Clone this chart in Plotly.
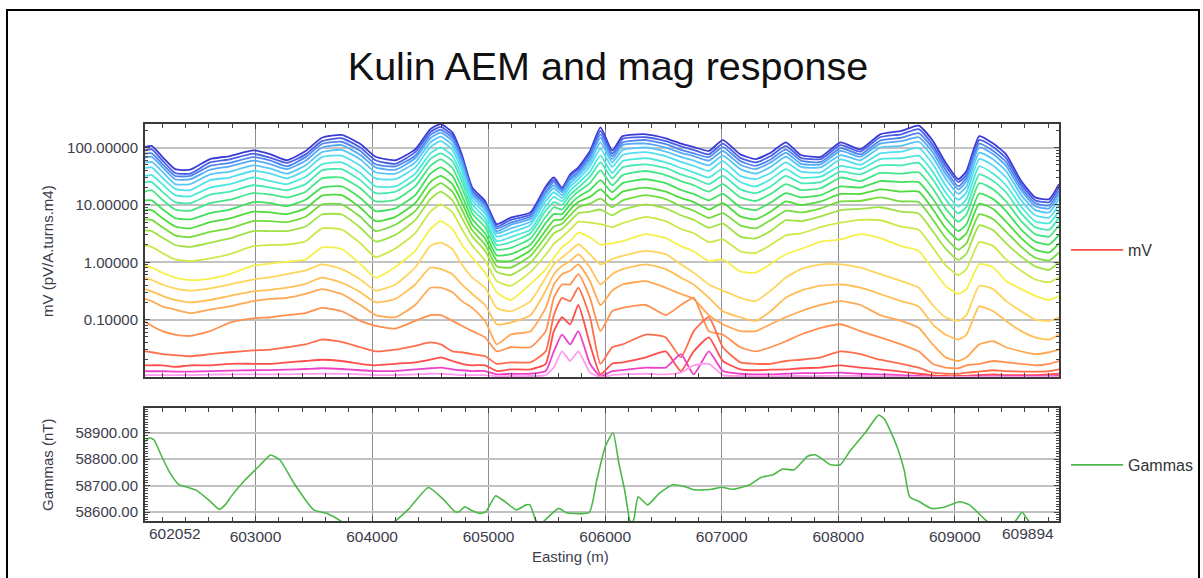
import plotly.graph_objects as go

W, H = 1203, 578

# ---------------- data ----------------
easting = [602052, 602110, 602200, 602310, 602440, 602610, 602780, 602980, 603130, 603270,
           603430, 603570, 603740, 603900, 604030, 604200, 604370, 604500, 604590, 604690,
           604770, 604860, 604970, 605070, 605190, 605360, 605490, 605560, 605630, 605700,
           605770, 605870, 605960, 606060, 606150, 606350, 606520, 606650, 606760, 606890,
           607010, 607160, 607290, 607420, 607550, 607680, 607850, 608020, 608190, 608360,
           608540, 608690, 608810, 608920, 609030, 609100, 609210, 609330, 609440, 609570,
           609690, 609810, 609894]

# mV (pV/A.turns.m4), channel 1 (earliest) ... channel 23 (latest)
ch01 = [102, 107, 69, 42, 41, 63, 71, 89, 76, 60, 87, 148, 166, 115, 69, 60, 93, 209, 257, 182, 76, 20, 11.7, 4.6, 6.0, 7.4, 21, 30, 20, 34, 45, 87, 224, 89, 158, 170, 145, 117, 102, 87, 135, 76, 63, 81, 123, 74, 69, 123, 93, 170, 195, 240, 132, 55, 28, 39, 158, 117, 76, 26, 13.5, 12.6, 23]
ch02 = [89, 93, 60, 36, 35, 55, 62, 78, 66, 54, 76, 129, 145, 100, 60, 52, 83, 186, 229, 162, 68, 18, 10.7, 4.2, 5.5, 6.8, 19.5, 27, 19.1, 32, 42, 79, 195, 79, 141, 151, 129, 105, 91, 76, 117, 66, 55, 71, 107, 66, 63, 110, 85, 151, 170, 209, 112, 48, 25, 34, 135, 102, 65, 23, 12.0, 11.2, 20]
ch03 = [78, 79, 52, 32, 32, 48, 54, 68, 59, 47, 68, 115, 126, 87, 51, 47, 72, 166, 204, 145, 62, 17, 10.0, 3.9, 4.9, 6.3, 17, 25, 17.8, 29, 38, 71, 170, 71, 123, 135, 115, 91, 79, 68, 102, 58, 48, 62, 93, 59, 56, 98, 76, 132, 148, 178, 98, 41, 21, 30, 117, 87, 56, 20, 10.7, 9.8, 17.4]
ch04 = [66, 69, 46, 28, 28, 41, 47, 59, 51, 42, 59, 100, 110, 74, 45, 41, 65, 145, 182, 129, 55, 15.5, 9.1, 3.5, 4.5, 5.8, 15.8, 22, 16.6, 27, 35, 63, 148, 63, 110, 117, 100, 81, 71, 59, 87, 50, 42, 55, 81, 52, 51, 87, 69, 117, 129, 151, 83, 35, 18.6, 26, 100, 76, 48, 17.8, 9.5, 8.7, 15.1]
ch05 = [55, 56, 38, 23, 23, 34, 38, 49, 43, 35, 49, 83, 91, 62, 37, 35, 55, 123, 155, 110, 48, 13.8, 8.1, 3.2, 3.9, 5.1, 13.8, 19.5, 14.8, 24, 32, 55, 123, 55, 91, 100, 85, 69, 59, 49, 72, 42, 35, 46, 69, 46, 45, 74, 60, 100, 107, 126, 68, 29, 15.5, 21, 81, 62, 39, 14.8, 8.1, 7.4, 12.9]
ch06 = [44, 45, 30, 19, 18, 27, 30, 39, 35, 29, 40, 68, 72, 48, 29, 28, 45, 102, 129, 91, 40, 12.0, 7.1, 2.8, 3.3, 4.5, 11.7, 16.6, 13.2, 21, 28, 47, 95, 46, 74, 83, 71, 56, 48, 39, 58, 32, 28, 36, 55, 38, 37, 62, 50, 79, 85, 98, 52, 22, 12.3, 16.6, 63, 48, 30, 12.0, 6.6, 6.0, 10.2]
ch07 = [32, 33, 23, 14.8, 14.1, 20, 23, 30, 26, 23, 31, 51, 55, 36, 21, 21, 35, 79, 100, 72, 32, 10.2, 5.9, 2.34, 2.75, 3.7, 9.5, 13.8, 11.5, 17.8, 24, 38, 72, 36, 58, 65, 55, 44, 37, 30, 43, 25, 21, 28, 42, 30, 31, 48, 42, 63, 65, 72, 38, 16.6, 9.3, 12.6, 47, 35, 22, 9.3, 5.2, 4.8, 7.8]
ch08 = [25, 25, 17, 11.2, 10.7, 15.1, 17, 22, 20, 18, 23, 40, 42, 27, 16, 17, 28, 63, 79, 58, 26, 8.5, 5.0, 2.0, 2.24, 3.2, 7.9, 11.2, 10.0, 15.1, 20, 31, 55, 29, 45, 51, 44, 34, 29, 23, 32, 18.6, 16, 21, 32, 24, 25, 38, 34, 49, 49, 54, 28, 12.6, 7.1, 9.3, 34, 26, 16.6, 7.1, 4.1, 3.7, 6.0]
ch09 = [17, 18, 12.3, 8.3, 7.9, 10.7, 12.3, 16, 15.1, 13.5, 17, 29, 30, 19.5, 11.5, 12.3, 21, 48, 62, 44, 20, 7.1, 4.1, 1.66, 1.78, 2.6, 6.2, 9.1, 8.3, 12.6, 17, 24, 40, 22, 33, 39, 33, 26, 22, 17, 23, 13.5, 11.7, 15.5, 23, 18.2, 19.5, 30, 26, 36, 35, 37, 19.5, 8.7, 5.1, 6.8, 24, 18.6, 11.5, 5.2, 3.1, 2.8, 4.4]
ch10 = [12, 12, 8.5, 5.9, 5.6, 7.2, 8.3, 11.2, 10.7, 9.5, 12.3, 20, 21, 13.2, 7.8, 8.7, 14.8, 35, 45, 32, 14.8, 5.6, 3.2, 1.32, 1.38, 2.04, 4.8, 6.9, 6.9, 10.2, 13.8, 18.2, 27, 16.6, 24, 28, 24, 18.2, 15.5, 12.0, 15.5, 9.1, 8.1, 11.0, 16, 13.5, 14.8, 21, 20, 26, 25, 25, 12.9, 5.9, 3.5, 4.6, 15.8, 12.6, 7.8, 3.7, 2.29, 2.04, 3.0]
ch11 = [8.1, 8.1, 5.9, 4.2, 3.9, 5.0, 5.8, 7.6, 7.4, 6.9, 8.7, 14.5, 14.8, 8.9, 5.2, 6.2, 10.7, 25, 32, 23, 11.2, 4.5, 2.6, 1.07, 1.05, 1.62, 3.6, 5.4, 5.6, 8.3, 11.2, 13.8, 18.6, 12.3, 17, 20, 17, 13.2, 11.2, 8.3, 10.7, 6.3, 5.6, 7.6, 11.5, 10.0, 11.5, 15.5, 15.5, 18.6, 17, 17, 8.5, 4.0, 2.45, 3.2, 10.5, 8.5, 5.1, 2.63, 1.66, 1.48, 2.14]
ch12 = [5.6, 5.5, 4.1, 2.95, 2.75, 3.4, 3.9, 5.2, 5.2, 5.0, 6.2, 10.2, 10.2, 6.2, 3.5, 4.5, 7.8, 18, 24, 17, 8.3, 3.6, 2.04, 0.85, 0.81, 1.29, 2.8, 4.2, 4.7, 6.6, 9.1, 10.5, 12.9, 9.1, 12.0, 14.8, 12.6, 9.5, 7.9, 5.9, 7.2, 4.4, 3.9, 5.4, 7.9, 7.4, 8.7, 11.5, 11.7, 13.5, 11.5, 11.2, 5.6, 2.7, 1.66, 2.14, 6.9, 5.6, 3.4, 1.86, 1.2, 1.07, 1.48]
ch13 = [3.6, 3.5, 2.7, 2.0, 1.86, 2.19, 2.6, 3.5, 3.5, 3.5, 4.2, 6.8, 6.8, 4.0, 2.29, 3.0, 5.4, 12.6, 17, 12.0, 6.0, 2.8, 1.58, 0.68, 0.60, 0.98, 2.09, 3.2, 3.8, 5.2, 7.2, 7.6, 8.3, 6.6, 8.3, 10.2, 8.7, 6.6, 5.5, 4.0, 4.7, 2.8, 2.6, 3.5, 5.4, 5.2, 6.3, 8.1, 8.5, 9.1, 7.6, 7.1, 3.5, 1.74, 1.10, 1.41, 4.4, 3.6, 2.14, 1.26, 0.85, 0.74, 1.00]
ch14 = [1.95, 1.86, 1.45, 1.12, 1.05, 1.17, 1.38, 1.91, 2.0, 2.04, 2.34, 3.9, 3.7, 2.14, 1.23, 1.74, 3.2, 7.6, 10.2, 7.4, 3.8, 1.95, 1.07, 0.47, 0.39, 0.68, 1.35, 2.09, 2.75, 3.7, 5.1, 4.9, 4.6, 4.1, 4.8, 6.2, 5.2, 3.8, 3.2, 2.24, 2.51, 1.55, 1.45, 2.0, 2.95, 3.2, 4.1, 4.9, 5.5, 5.4, 4.2, 3.7, 1.82, 0.89, 0.60, 0.76, 2.24, 1.91, 1.12, 0.71, 0.50, 0.45, 0.55]
ch15 = [0.87, 0.81, 0.66, 0.54, 0.49, 0.52, 0.62, 0.87, 0.95, 1.02, 1.12, 1.82, 1.7, 0.93, 0.54, 0.83, 1.58, 3.8, 5.2, 3.8, 2.04, 1.2, 0.66, 0.30, 0.22, 0.42, 0.76, 1.2, 1.82, 2.34, 3.3, 2.7, 2.04, 2.14, 2.34, 3.1, 2.63, 1.91, 1.55, 1.05, 1.12, 0.69, 0.66, 0.93, 1.38, 1.7, 2.29, 2.51, 3.1, 2.63, 1.91, 1.58, 0.76, 0.39, 0.28, 0.34, 0.93, 0.81, 0.47, 0.34, 0.26, 0.22, 0.26]
ch16 = [0.54, 0.49, 0.41, 0.35, 0.32, 0.35, 0.41, 0.50, 0.55, 0.62, 0.72, 0.92, 0.76, 0.50, 0.32, 0.41, 0.81, 1.93, 2.2, 1.69, 0.92, 0.54, 0.36, 0.16, 0.14, 0.21, 0.54, 0.92, 1.21, 1.58, 2.06, 1.38, 0.92, 1.13, 1.29, 1.58, 1.38, 0.92, 0.66, 0.41, 0.32, 0.24, 0.21, 0.32, 0.54, 0.76, 0.92, 0.92, 0.81, 0.62, 0.47, 0.36, 0.18, 0.11, 0.095, 0.12, 0.39, 0.34, 0.21, 0.14, 0.10, 0.095, 0.11]
ch17 = [0.34, 0.31, 0.26, 0.22, 0.20, 0.22, 0.26, 0.31, 0.33, 0.36, 0.42, 0.54, 0.44, 0.30, 0.20, 0.23, 0.41, 0.81, 0.76, 0.62, 0.41, 0.28, 0.18, 0.083, 0.089, 0.12, 0.32, 0.62, 0.86, 1.05, 1.38, 0.81, 0.41, 0.62, 0.76, 0.92, 0.76, 0.54, 0.41, 0.24, 0.14, 0.11, 0.095, 0.14, 0.24, 0.32, 0.39, 0.41, 0.36, 0.28, 0.21, 0.17, 0.083, 0.055, 0.045, 0.055, 0.17, 0.14, 0.095, 0.063, 0.049, 0.045, 0.055]
ch18 = [0.23, 0.21, 0.17, 0.15, 0.13, 0.15, 0.17, 0.21, 0.23, 0.24, 0.28, 0.34, 0.28, 0.18, 0.12, 0.11, 0.18, 0.36, 0.36, 0.30, 0.21, 0.16, 0.095, 0.037, 0.055, 0.063, 0.16, 0.41, 0.62, 0.71, 0.92, 0.47, 0.18, 0.32, 0.41, 0.47, 0.36, 0.28, 0.23, 0.12, 0.083, 0.063, 0.063, 0.083, 0.11, 0.14, 0.18, 0.21, 0.18, 0.12, 0.095, 0.072, 0.037, 0.022, 0.019, 0.022, 0.037, 0.042, 0.033, 0.028, 0.025, 0.027, 0.030]
ch19 = [0.092, 0.078, 0.063, 0.055, 0.052, 0.063, 0.089, 0.105, 0.11, 0.12, 0.13, 0.16, 0.14, 0.095, 0.078, 0.070, 0.095, 0.12, 0.12, 0.095, 0.078, 0.063, 0.049, 0.028, 0.033, 0.033, 0.063, 0.24, 0.41, 0.41, 0.62, 0.24, 0.063, 0.14, 0.16, 0.18, 0.12, 0.18, 0.24, 0.063, 0.055, 0.033, 0.028, 0.033, 0.042, 0.055, 0.072, 0.083, 0.063, 0.049, 0.037, 0.028, 0.017, 0.0146, 0.0142, 0.016, 0.017, 0.019, 0.018, 0.017, 0.016, 0.017, 0.019]
ch20 = [0.028, 0.027, 0.025, 0.024, 0.023, 0.025, 0.027, 0.029, 0.030, 0.033, 0.037, 0.045, 0.041, 0.033, 0.028, 0.030, 0.035, 0.040, 0.037, 0.028, 0.027, 0.025, 0.023, 0.017, 0.018, 0.018, 0.028, 0.12, 0.24, 0.21, 0.36, 0.11, 0.017, 0.033, 0.037, 0.055, 0.049, 0.022, 0.063, 0.11, 0.033, 0.018, 0.017, 0.017, 0.019, 0.020, 0.022, 0.028, 0.025, 0.020, 0.017, 0.0146, 0.0119, 0.0114, 0.0114, 0.0119, 0.0124, 0.0131, 0.0127, 0.0124, 0.0124, 0.0127, 0.0136]
ch21 = [0.016, 0.016, 0.016, 0.015, 0.016, 0.016, 0.017, 0.017, 0.017, 0.018, 0.019, 0.020, 0.019, 0.017, 0.016, 0.017, 0.018, 0.020, 0.022, 0.019, 0.017, 0.016, 0.016, 0.0127, 0.0136, 0.0136, 0.017, 0.063, 0.11, 0.083, 0.18, 0.037, 0.0111, 0.017, 0.018, 0.022, 0.028, 0.0127, 0.028, 0.049, 0.019, 0.0136, 0.0131, 0.0134, 0.0136, 0.0142, 0.0146, 0.016, 0.0146, 0.0136, 0.0124, 0.0114, 0.0107, 0.0104, 0.0104, 0.0105, 0.0108, 0.0111, 0.0108, 0.0108, 0.0108, 0.0111, 0.0114]
ch22 = [0.0127, 0.0126, 0.0126, 0.0124, 0.0124, 0.0127, 0.0129, 0.0131, 0.0132, 0.0134, 0.0138, 0.0142, 0.0138, 0.0131, 0.0127, 0.0127, 0.0136, 0.0142, 0.0146, 0.0136, 0.0131, 0.0127, 0.0127, 0.0111, 0.0114, 0.0114, 0.0127, 0.028, 0.055, 0.037, 0.063, 0.017, 0.0103, 0.0127, 0.0132, 0.0146, 0.0146, 0.025, 0.0111, 0.028, 0.0127, 0.0114, 0.0111, 0.0111, 0.0114, 0.0117, 0.0117, 0.0119, 0.0114, 0.0111, 0.0108, 0.0104, 0.0101, 0.0100, 0.0100, 0.0101, 0.0103, 0.0103, 0.0103, 0.0103, 0.0103, 0.0103, 0.0104]
ch23 = [0.0108, 0.0108, 0.0108, 0.0108, 0.0108, 0.0110, 0.0111, 0.0111, 0.0111, 0.0111, 0.0113, 0.0114, 0.0113, 0.0111, 0.0108, 0.0108, 0.0111, 0.0114, 0.0114, 0.0111, 0.0108, 0.0108, 0.0108, 0.0103, 0.0104, 0.0104, 0.0108, 0.0146, 0.028, 0.019, 0.028, 0.0119, 0.0100, 0.0108, 0.0111, 0.0114, 0.0111, 0.0119, 0.016, 0.017, 0.0108, 0.0104, 0.0103, 0.0103, 0.0104, 0.0104, 0.0104, 0.0105, 0.0104, 0.0103, 0.0101, 0.0100, 0.0100, 0.0100, 0.0100, 0.0100, 0.0100, 0.0100, 0.0100, 0.0100, 0.0100, 0.0100, 0.0100]

# magnetics (nT)
gamma_easting = [602052, 602090, 602130, 602190, 602260, 602340, 602430, 602490, 602600, 602690,
                 602740, 602800, 602910, 603040, 603130, 603210, 603330, 603500, 603610, 603730,
                 603850, 604050, 604200, 604320, 604484, 604616, 604714, 604747, 604796, 604846,
                 604928, 604977, 605059, 605141, 605240, 605322, 605355, 605404, 605440, 605486,
                 605601, 605667, 605864, 605929, 606002, 606068, 606117, 606167, 606210, 606230,
                 606250, 606283, 606365, 606464, 606580, 606679, 606762, 606911, 607000, 607093,
                 607241, 607340, 607440, 607522, 607621, 607737, 607803, 607934, 608017, 608099,
                 608231, 608347, 608397, 608498, 608565, 608612, 608696, 608795, 608894, 609043,
                 609126, 609274, 609400, 609520, 609577, 609634, 609750, 609894]
gamma_nT = [58866, 58881, 58873, 58816, 58753, 58705, 58692, 58683, 58645, 58610,
            58627, 58664, 58721, 58778, 58816, 58797, 58709, 58608, 58595, 58566,
            58520, 58520, 58566, 58614, 58693, 58646, 58601, 58601, 58620, 58608,
            58595, 58601, 58661, 58639, 58608, 58627, 58627, 58570, 58550, 58570,
            58614, 58597, 58599, 58722, 58849, 58900, 58786, 58684, 58570, 58555,
            58580, 58658, 58627, 58671, 58703, 58697, 58684, 58686, 58694, 58686,
            58703, 58732, 58741, 58763, 58760, 58811, 58817, 58779, 58779, 58830,
            58900, 58967, 58951, 58855, 58760, 58658, 58639, 58614, 58617, 58639,
            58627, 58566, 58530, 58566, 58599, 58566, 58530, 58520]

x_tick_vals = [603000, 604000, 605000, 606000, 607000, 608000, 609000]
x_tick_text = ["603000", "604000", "605000", "606000", "607000", "608000", "609000"]
x_start_label = "602052"
x_end_label = "609894"
mv_tick_vals = [0.1, 1, 10, 100]
mv_tick_text = ["0.10000", "1.00000", "10.00000", "100.00000"]
gam_tick_vals = [58600, 58700, 58800, 58900]
gam_tick_text = ["58600.00", "58700.00", "58800.00", "58900.00"]

channels = [ch01, ch02, ch03, ch04, ch05, ch06, ch07, ch08, ch09, ch10, ch11, ch12,
            ch13, ch14, ch15, ch16, ch17, ch18, ch19, ch20, ch21, ch22, ch23]

# ---------------- styling ----------------
colors = ["#3a3ad6", "#4a5fe4", "#4f86ee", "#56a9f4", "#58c6f6", "#52def0", "#4de8dc",
          "#48e8b4", "#44e688", "#40e05c", "#4cdc3c", "#74dc3c", "#a0e244", "#cce84a",
          "#f6f04a", "#ffd45c", "#ffc058", "#ffa854", "#ff9050", "#ff6c4c", "#ff4d4d",
          "#ee40c8", "#ff9cf0"]
LEGEND_CH = 20

FONT = "Liberation Sans, Arial, sans-serif"
TICK_COLOR = "#3c3c4c"
X0, X1 = 602052, 609894

def py(p):
    return 1 - p / H

def pxx(p):
    return p / W

fig = go.Figure()
for i, (vals, col) in enumerate(zip(channels, colors)):
    fig.add_trace(go.Scatter(
        x=easting, y=vals, mode="lines",
        line=dict(color=col, width=1.8, shape="spline", smoothing=0.5),
        name="mV", showlegend=(i == LEGEND_CH), legend="legend",
        xaxis="x", yaxis="y", hoverinfo="skip"))

fig.add_trace(go.Scatter(
    x=gamma_easting, y=gamma_nT, mode="lines",
    line=dict(color="#4cb848", width=1.6, shape="spline", smoothing=0.5),
    name="Gammas", legend="legend2", xaxis="x2", yaxis="y2", hoverinfo="skip"))

minor_log = [m * 10 ** e for e in (-2, -1, 0, 1, 2) for m in range(2, 10)]

x_dom = [pxx(145), pxx(1059)]
common_x = dict(domain=x_dom, range=[X0, X1], tickmode="array", tickvals=x_tick_vals,
                ticktext=x_tick_text, ticks="inside", ticklen=5, tickcolor="#444",
                showgrid=True, gridcolor="#8e8e8e", gridwidth=1, showline=True,
                linecolor="#3a3a3a", linewidth=2, mirror="ticks", zeroline=False,
                tickfont=dict(size=15.5, color=TICK_COLOR, family=FONT), automargin=False,
                minor=dict(tickmode="linear", tick0=602000, dtick=200, ticks="inside",
                           ticklen=4, tickcolor="#444", showgrid=False))

fig.update_layout(
    width=W, height=H,
    margin=dict(l=0, r=0, t=0, b=0),
    paper_bgcolor="white", plot_bgcolor="white",
    font=dict(family=FONT, size=15, color="#333"),
    title=dict(text="Kulin AEM and mag response", x=pxx(608), xanchor="center",
               y=py(66), yanchor="middle", xref="container", yref="container",
               font=dict(size=39.5, color="#111", family=FONT)),
    xaxis=dict(common_x, anchor="y", showticklabels=False),
    xaxis2=dict(common_x, anchor="y2", showticklabels=True),
    yaxis=dict(domain=[py(377), py(124)], type="log", range=[-2, 2.41],
               tickmode="array", tickvals=mv_tick_vals, ticktext=mv_tick_text,
               ticks="inside", ticklen=5, tickcolor="#444", ticklabelstandoff=2,
               showgrid=True, gridcolor="#c2c2c2", gridwidth=2, showline=True,
               linecolor="#3a3a3a", linewidth=2, mirror="ticks", zeroline=False,
               tickfont=dict(size=15, color=TICK_COLOR, family=FONT), automargin=False,
               minor=dict(tickmode="array", tickvals=minor_log, ticks="inside",
                          ticklen=3, tickcolor="#444", showgrid=False)),
    yaxis2=dict(domain=[py(521), py(408)], range=[58566, 58994],
                tickmode="array", tickvals=gam_tick_vals, ticktext=gam_tick_text,
                ticks="inside", ticklen=5, tickcolor="#444", ticklabelstandoff=2,
                showgrid=True, gridcolor="#c2c2c2", gridwidth=2, showline=True,
                linecolor="#3a3a3a", linewidth=2, mirror="ticks", zeroline=False,
                tickfont=dict(size=15, color=TICK_COLOR, family=FONT), automargin=False,
                minor=dict(tickmode="linear", tick0=58500, dtick=10, ticks="inside",
                           ticklen=3, tickcolor="#444", showgrid=False)),
    legend=dict(x=pxx(1066), y=py(250), xanchor="left", yanchor="middle", itemwidth=52,
                font=dict(size=16, color="#333", family=FONT), bgcolor="rgba(0,0,0,0)"),
    legend2=dict(x=pxx(1066), y=py(465), xanchor="left", yanchor="middle", itemwidth=52,
                 font=dict(size=16, color="#333", family=FONT), bgcolor="rgba(0,0,0,0)"),
    showlegend=True,
    hovermode=False,
)

ann_font = dict(size=15.5, color=TICK_COLOR, family=FONT)
fig.add_annotation(x=X0, xref="x2", y=py(533), yref="paper", text=x_start_label,
                   showarrow=False, xanchor="left", yanchor="middle", xshift=2, font=ann_font)
fig.add_annotation(x=X1, xref="x2", y=py(533), yref="paper", text=x_end_label,
                   showarrow=False, xanchor="right", yanchor="middle", xshift=-3, font=ann_font)
fig.add_annotation(x=pxx(47), y=py(251), xref="paper", yref="paper",
                   xanchor="center", yanchor="middle",
                   text="mV (pV/A.turns.m4)", textangle=-90, showarrow=False,
                   font=dict(size=15, color=TICK_COLOR, family=FONT))
fig.add_annotation(x=pxx(47), y=py(465), xref="paper", yref="paper",
                   xanchor="center", yanchor="middle",
                   text="Gammas (nT)", textangle=-90, showarrow=False,
                   font=dict(size=15, color=TICK_COLOR, family=FONT))
fig.add_annotation(x=pxx(570), y=py(556), xref="paper", yref="paper",
                   xanchor="center", yanchor="middle",
                   text="Easting (m)", showarrow=False,
                   font=dict(size=15, color=TICK_COLOR, family=FONT))

# outer frame of the picture
fig.add_shape(type="rect", xref="paper", yref="paper",
              x0=pxx(7), x1=pxx(1199), y0=py(595), y1=py(10),
              line=dict(color="black", width=2), fillcolor="rgba(0,0,0,0)", layer="above")

fig.write_html("out.html",
               config={"displayModeBar": False, "staticPlot": True},
               post_script="document.body.style.margin='0';document.body.style.overflow='hidden';")
